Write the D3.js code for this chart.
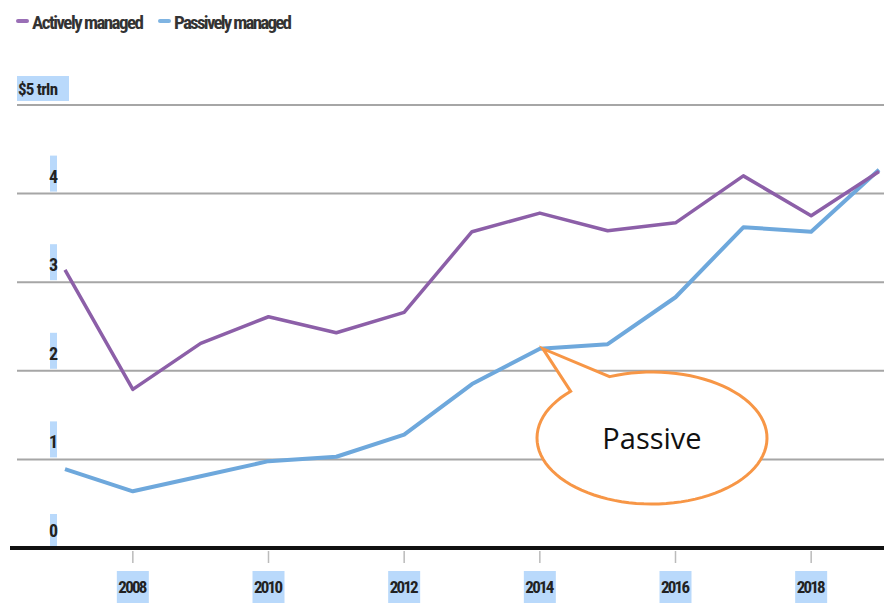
<!DOCTYPE html>
<html>
<head>
<meta charset="utf-8">
<script src="https://cdn.jsdelivr.net/npm/d3@7"></script>
<style>
  body { margin: 0; background: #fff; }
  svg { display: block; }
</style>
</head>
<body>
<div id="chart"></div>
<script>
const years = [2007, 2008, 2009, 2010, 2011, 2012, 2013, 2014, 2015, 2016, 2017, 2018, 2019];
const active = [3.14, 1.79, 2.31, 2.61, 2.43, 2.66, 3.57, 3.78, 3.58, 3.67, 4.20, 3.75, 4.25];
const passive = [0.89, 0.64, 0.81, 0.98, 1.03, 1.28, 1.85, 2.25, 2.30, 2.83, 3.62, 3.57, 4.27];
const yTicks = [0, 1, 2, 3, 4, 5];
const xTicks = [2008, 2010, 2012, 2014, 2016, 2018];
const seriesNames = ["Actively managed", "Passively managed"];

const width = 884, height = 603;
const font = "'Liberation Sans Narrow', 'Roboto Condensed', 'DejaVu Sans Condensed', sans-serif";
const hl = "#b9d9fb";

const svg = d3.select("#chart").append("svg")
  .attr("width", width)
  .attr("height", height)
  .style("font-family", font);

const x = d3.scaleLinear().domain([2007, 2019]).range([65, 879]);
const y = d3.scaleLinear().domain([0, 5]).range([548, 105]);

// gridlines
svg.append("g")
  .selectAll("line")
  .data(yTicks.filter(d => d > 0))
  .join("line")
    .attr("x1", 17)
    .attr("x2", width)
    .attr("y1", d => y(d))
    .attr("y2", d => y(d))
    .attr("stroke", "#a6a6a6")
    .attr("stroke-width", 2);

// y labels with highlight
const yl = svg.append("g");
yTicks.forEach(d => {
  if (d === 5) {
    yl.append("rect")
      .attr("x", 17).attr("y", y(d) - 29)
      .attr("width", 52).attr("height", 25)
      .attr("fill", hl);
    yl.append("text")
      .attr("x", 18).attr("y", y(d) - 10)
      .attr("font-size", 17).attr("font-weight", "bold")
      .attr("fill", "#222")
      .attr("textLength", 40)
      .text("$5 trln");
  } else {
    const top = d === 0 ? y(d) - 34 : y(d) - 38;
    yl.append("rect")
      .attr("x", 50).attr("y", top)
      .attr("width", 7).attr("height", d === 0 ? 32 : 36)
      .attr("fill", hl);
    yl.append("text")
      .attr("x", 53.5).attr("y", y(d) - 11)
      .attr("text-anchor", "middle")
      .attr("font-size", 18).attr("font-weight", "bold")
      .attr("fill", "#222")
      .text(d);
  }
});

// baseline
svg.append("line")
  .attr("x1", 10).attr("x2", width)
  .attr("y1", y(0)).attr("y2", y(0))
  .attr("stroke", "#111").attr("stroke-width", 4);

// x ticks and labels
const xg = svg.append("g");
xTicks.forEach(d => {
  xg.append("line")
    .attr("x1", x(d)).attr("x2", x(d))
    .attr("y1", y(0) + 3).attr("y2", y(0) + 15)
    .attr("stroke", "#bbb").attr("stroke-width", 1.5);
  xg.append("rect")
    .attr("x", x(d) - 16).attr("y", 571)
    .attr("width", 32).attr("height", 32)
    .attr("fill", hl);
  xg.append("text")
    .attr("x", x(d)).attr("y", 593)
    .attr("text-anchor", "middle")
    .attr("font-size", 17).attr("font-weight", "bold")
    .attr("fill", "#222")
    .attr("textLength", 29)
    .text(d);
});

// lines
const line = d3.line()
  .x((d, i) => x(years[i]))
  .y(d => y(d));

svg.append("path")
  .datum(passive)
  .attr("fill", "none")
  .attr("stroke", "#6ea8dc")
  .attr("stroke-width", 4)
  .attr("stroke-linejoin", "round")
  .attr("d", line);

svg.append("path")
  .datum(active)
  .attr("fill", "none")
  .attr("stroke", "#8c5fa8")
  .attr("stroke-width", 3.5)
  .attr("stroke-linejoin", "round")
  .attr("d", line);

// legend
const legendColors = ["#9a6fb6", "#7fb4e2"];
const legendX = [18, 160];
seriesNames.forEach((name, i) => {
  svg.append("line")
    .attr("x1", legendX[i]).attr("x2", legendX[i] + 9)
    .attr("y1", 21).attr("y2", 21)
    .attr("stroke", legendColors[i]).attr("stroke-width", 4)
    .attr("stroke-linecap", "round");
  svg.append("text")
    .attr("x", legendX[i] + 14).attr("y", 29)
    .attr("font-size", 19).attr("font-weight", "bold")
    .attr("fill", "#333")
    .attr("textLength", i === 0 ? 112 : 118)
    .text(name);
});

// callout bubble
const cx = 652, cy = 438, rx = 115, ry = 66;
const tip = [x(2014) + 3, y(2.25)];
const a1 = Math.PI * 1.25, a2 = Math.PI * 1.38;
const bubble = d3.path();
bubble.moveTo(cx + rx * Math.cos(a2), cy + ry * Math.sin(a2));
const steps = 90;
for (let k = 1; k <= steps; k++) {
  const t = a2 + (2 * Math.PI - (a2 - a1)) * k / steps;
  bubble.lineTo(cx + rx * Math.cos(t), cy + ry * Math.sin(t));
}
bubble.lineTo(tip[0], tip[1]);
bubble.closePath();

svg.append("path")
  .attr("d", bubble.toString())
  .attr("fill", "#fff")
  .attr("stroke", "#f79646")
  .attr("stroke-width", 3)
  .attr("stroke-linejoin", "miter");

svg.append("text")
  .attr("x", cx).attr("y", cy + 11)
  .attr("text-anchor", "middle")
  .attr("font-family", "'Open Sans', 'Liberation Sans', sans-serif")
  .attr("font-size", 29)
  .attr("fill", "#111")
  .text("Passive");
</script>
</body>
</html>
